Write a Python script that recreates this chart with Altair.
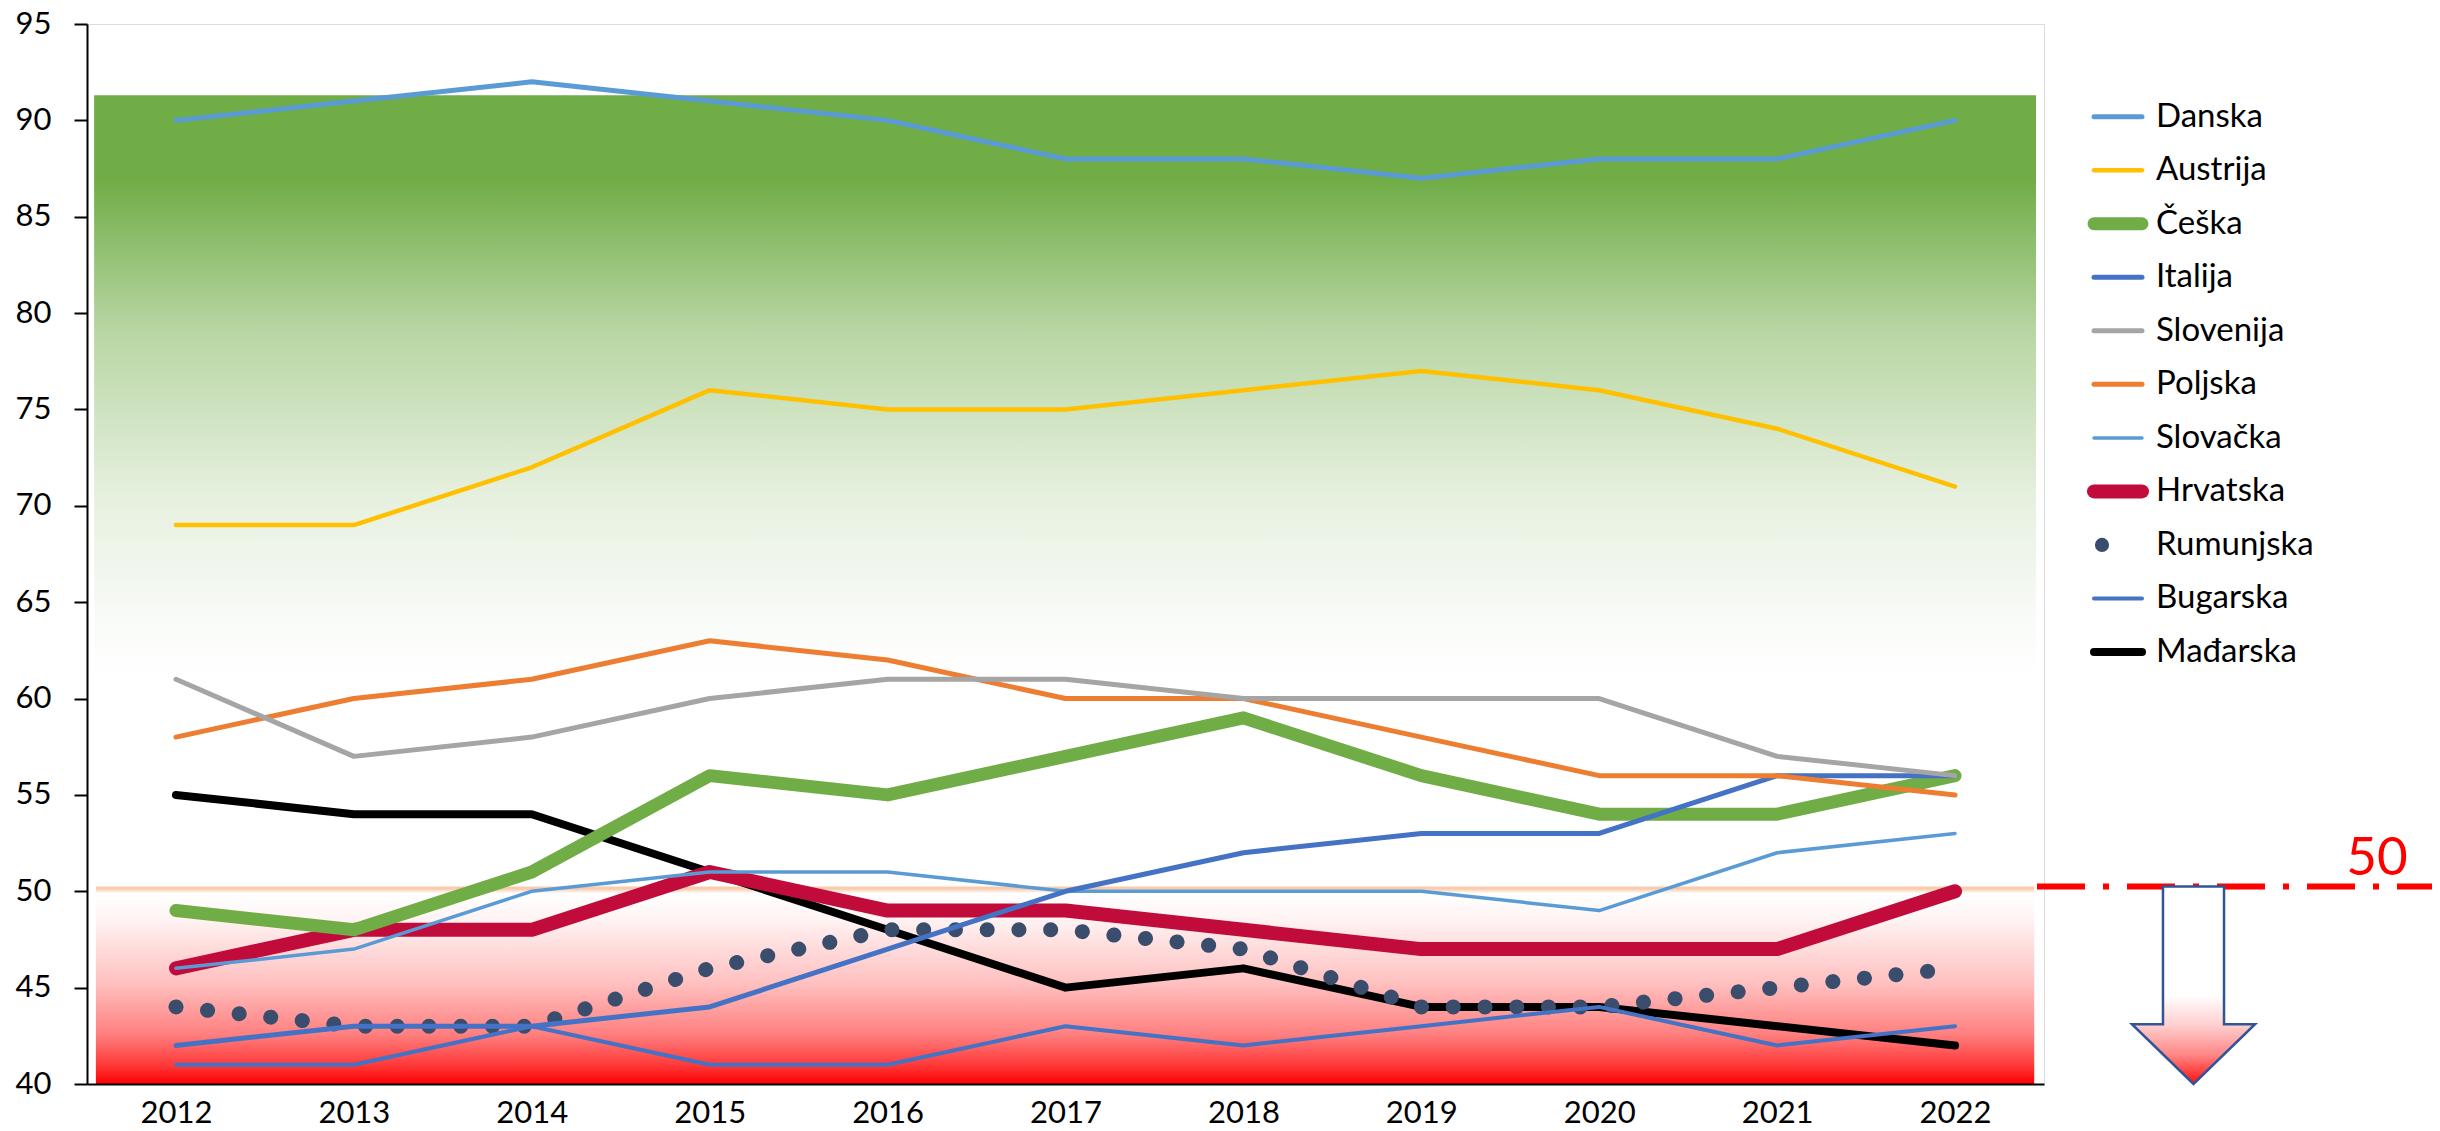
import altair as alt
import pandas as pd

# ---------------- data ----------------
years = [2012, 2013, 2014, 2015, 2016, 2017, 2018, 2019, 2020, 2021, 2022]
names = ["Danska", "Austrija", "Češka", "Italija", "Slovenija", "Poljska",
         "Slovačka", "Hrvatska", "Rumunjska", "Bugarska", "Mađarska"]

danska = [90, 91, 92, 91, 90, 88, 88, 87, 88, 88, 90]
austrija = [69, 69, 72, 76, 75, 75, 76, 77, 76, 74, 71]
ceska = [49, 48, 51, 56, 55, 57, 59, 56, 54, 54, 56]
italija = [42, 43, 43, 44, 47, 50, 52, 53, 53, 56, 56]
slovenija = [61, 57, 58, 60, 61, 61, 60, 60, 60, 57, 56]
poljska = [58, 60, 61, 63, 62, 60, 60, 58, 56, 56, 55]
slovacka = [46, 47, 50, 51, 51, 50, 50, 50, 49, 52, 53]
hrvatska = [46, 48, 48, 51, 49, 49, 48, 47, 47, 47, 50]
rumunjska = [44, 43, 43, 46, 48, 48, 47, 44, 44, 45, 46]
bugarska = [41, 41, 43, 41, 41, 43, 42, 43, 44, 42, 43]
madarska = [55, 54, 54, 51, 48, 45, 46, 44, 44, 43, 42]

series = {
    "Danska": danska, "Austrija": austrija, "Češka": ceska, "Italija": italija,
    "Slovenija": slovenija, "Poljska": poljska, "Slovačka": slovacka,
    "Hrvatska": hrvatska, "Rumunjska": rumunjska, "Bugarska": bugarska,
    "Mađarska": madarska,
}

y_ticks = [40, 45, 50, 55, 60, 65, 70, 75, 80, 85, 90, 95]
threshold = 50.25
threshold_label = "50"
y_min, y_max = 40, 95
x_min, x_max = 2011.5, 2022.5

green_band = {"left": 2011.54, "right": 2022.455, "top": 91.3, "bottom": 40}
red_band = {"left": 2011.55, "right": 2022.445, "top": 50.25, "bottom": 40}

# ---------------- styles ----------------
STYLE = {  # colour, width, dash
    "Danska": ("#5B9BD5", 5, None),
    "Austrija": ("#FFC000", 4.5, None),
    "Češka": ("#70AD47", 13, None),
    "Italija": ("#4472C4", 5, None),
    "Slovenija": ("#A5A5A5", 5, None),
    "Poljska": ("#ED7D31", 5, None),
    "Slovačka": ("#5B9BD5", 3.5, None),
    "Hrvatska": ("#C00B3B", 14, None),
    "Rumunjska": ("#3A4D6C", 15, [0.1, 31.65]),
    "Bugarska": ("#4472C4", 4, None),
    "Mađarska": ("#000000", 8, None),
}
draw_order = ["Mađarska", "Hrvatska", "Rumunjska", "Bugarska", "Češka", "Slovačka",
              "Italija", "Poljska", "Slovenija", "Austrija", "Danska"]

FONT = "Lato"
W, H = 1957, 1060
PAD = {"left": 79, "top": 16, "right": 388, "bottom": 60}
PX_PER_UNIT = H / (y_max - y_min)

x_scale = alt.Scale(domain=[x_min, x_max], nice=False, zero=False)
y_scale = alt.Scale(domain=[y_min, y_max], nice=False, zero=False)
x_axis = alt.Axis(values=years, format="d", ticks=False, tickSize=0, labelFontSize=31,
                  labelFont=FONT, labelColor="black", labelPadding=14, domainColor="black",
                  domainWidth=2, grid=False, title=None, zindex=1, labelFlush=False)
y_axis = alt.Axis(values=y_ticks, tickSize=13, tickColor="black", tickWidth=2,
                  domainColor="black", domainWidth=2, labelFontSize=31, labelFont=FONT,
                  labelColor="black", labelPadding=23, grid=False, title=None, zindex=1)


def X(f):
    return alt.X(f, type="quantitative", scale=x_scale, axis=x_axis, title=None)


def Y(f):
    return alt.Y(f, type="quantitative", scale=y_scale, axis=y_axis, title=None)


def stops(lst):
    return [alt.GradientStop(color=c, offset=o) for o, c in lst]


green_grad = alt.Gradient(gradient="linear", x1=0, x2=0, y1=0, y2=1, stops=stops([
    (0.0, "#70AD47"), (0.086, "#70AD47"), (0.238, "#B8D6A3"), (0.405, "#E6F0DF"),
    (0.54, "#FAFCF9"), (0.59, "#FFFFFF"), (1.0, "#FFFFFF")]))
red_grad = alt.Gradient(gradient="linear", x1=0, x2=0, y1=0, y2=1, stops=stops([
    (0.0, "#F8CBAD"), (0.012, "#F8CBAD"), (0.035, "#FFFFFF"), (0.153, "#FFF5F5"),
    (0.49, "#FFC0C0"), (0.746, "#FF8080"), (0.907, "#FF3838"), (1.0, "#FF0000")]))
arrow_grad = alt.Gradient(gradient="linear", x1=0, x2=0, y1=0, y2=1, stops=stops([
    (0.0, "#FFFFFF"), (0.55, "#FFFFFF"), (0.7, "#FFD0D0"), (0.85, "#FF8888"),
    (1.0, "#FF1010")]))

# ---------------- bands ----------------
def band(b, grad):
    df = pd.DataFrame({"x1": [b["left"]], "x2": [b["right"]], "y1": [b["top"]], "y2": [b["bottom"]]})
    return alt.Chart(df).mark_rect(fill=grad, stroke=None).encode(
        x=X("x1"), x2="x2", y=Y("y1"), y2="y2")


layers = [band(green_band, green_grad), band(red_band, red_grad)]

# ---------------- lines ----------------
for name in draw_order:
    col, w, dash = STYLE[name]
    df = pd.DataFrame({"year": years, "value": series[name]})
    kw = dict(color=col, strokeWidth=w, strokeCap="round", strokeJoin="round")
    if dash:
        kw["strokeDash"] = dash
    layers.append(alt.Chart(df).mark_line(**kw).encode(x=X("year"), y=Y("value")))

# ---------------- threshold annotation ----------------
thr_df = pd.DataFrame({"v": [threshold], "label": [threshold_label],
                       "mid": [(threshold + y_min) / 2]})
layers.append(alt.Chart(thr_df).mark_rule(color="#FF0000", strokeWidth=6,
                                          strokeDash=[48, 18, 6, 18]).encode(
    y=Y("v"), x=alt.value(1950), x2=alt.value(2360)))
layers.append(alt.Chart(thr_df).mark_text(font=FONT, fontSize=53, color="#FF0000",
                                          align="center", baseline="alphabetic", dy=-11).encode(
    y=Y("v"), x=alt.value(2290), text="label:N"))

arrow_h = (threshold - y_min) * PX_PER_UNIT
ARROW = "M-0.309,-1 L0.309,-1 L0.309,0.395 L0.623,0.395 L0,1 L-0.623,0.395 L-0.309,0.395 Z"
layers.append(alt.Chart(thr_df).mark_point(shape=ARROW, size=arrow_h ** 2, filled=True,
                                           fill=arrow_grad, stroke="#2F5597",
                                           strokeWidth=2.5, opacity=1).encode(
    y=Y("mid"), x=alt.value(2106.5)))

main = alt.layer(*layers)

# ---------------- legend ----------------
leg_df = pd.DataFrame({
    "name": names,
    "col": [STYLE[n][0] for n in names],
    "lw": [STYLE[n][1] for n in names],
})
leg_y = alt.Y("name:N", sort=names, axis=None,
              scale=alt.Scale(type="point", range=[92.7, 628], padding=0))
leg_lines = alt.Chart(leg_df).transform_filter(alt.datum.name != "Rumunjska").mark_rule(
    strokeCap="round").encode(
    y=leg_y, x=alt.value(2007), x2=alt.value(2055),
    color=alt.Color("col:N", scale=None, legend=None),
    strokeWidth=alt.StrokeWidth("lw:Q", scale=None, legend=None))
leg_dot = alt.Chart(leg_df).transform_filter(alt.datum.name == "Rumunjska").mark_circle(
    size=201, opacity=1, color=STYLE["Rumunjska"][0]).encode(y=leg_y, x=alt.value(2015))
leg_text = alt.Chart(leg_df).mark_text(font=FONT, fontSize=33, color="black", align="left",
                                       baseline="middle").encode(
    y=leg_y, x=alt.value(2069), text="name:N")
legend = alt.layer(leg_lines, leg_dot, leg_text)

chart = alt.layer(main, legend).resolve_scale(y="independent").properties(
    width=W, height=H, padding=PAD, autosize=alt.AutoSizeParams(type="none"),
    background="white",
).configure_view(stroke=None).configure(font=FONT)

chart.save("out.html", embed_options={"renderer": "svg", "actions": False})
